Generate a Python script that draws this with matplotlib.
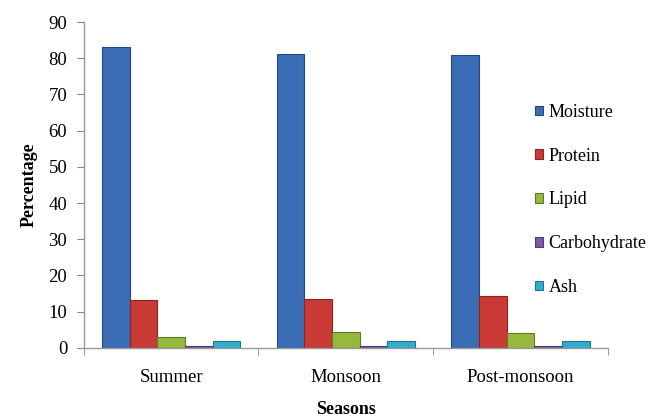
import numpy as np
import matplotlib.pyplot as plt
from matplotlib.patches import Patch

# Datos
seasons = ['Summer', 'Monsoon', 'Post-monsoon']
components = ['Moisture', 'Protein', 'Lipid', 'Carbohydrate', 'Ash']
moisture = [83.2, 81.3, 80.9]
protein = [13.1, 13.6, 14.4]
lipid = [3.0, 4.4, 4.1]
carbohydrate = [0.5, 0.5, 0.5]
ash = [1.9, 1.9, 1.9]

colors = ['#3a6db5', '#c93a36', '#96b83d', '#7b5aa6', '#33adcc']
edges = ['#24497e', '#8e2421', '#62792a', '#523a70', '#1f7488']

plt.rcParams['font.family'] = ['Liberation Serif', 'DejaVu Serif']

fig = plt.figure(figsize=(6.5, 4.17), dpi=100)
ax = fig.add_axes([0.129, 0.166, 0.806, 0.781])

series = [moisture, protein, lipid, carbohydrate, ash]
x = np.arange(len(seasons))
width = 0.1585
for i, vals in enumerate(series):
    ax.bar(x + (i - 2) * width, vals, width, color=colors[i],
           edgecolor=edges[i], linewidth=0.8, zorder=2)

ax.set_xlim(-0.5, 2.5)
ax.set_ylim(0, 90)
ax.set_yticks(np.arange(0, 91, 10))
ax.set_xticks(x)
ax.set_xticklabels(seasons, fontsize=13.5)
ax.set_xticks([-0.5, 0.5, 1.5, 2.5], minor=True)
ax.tick_params(axis='x', which='major', length=0, pad=15)
ax.tick_params(axis='x', which='minor', length=5, color='#888888', direction='out')
ax.tick_params(axis='y', length=5, color='#888888', labelsize=13.5, pad=7)

for s in ['top', 'right']:
    ax.spines[s].set_visible(False)
for s in ['left', 'bottom']:
    ax.spines[s].set_color('#999999')
    ax.spines[s].set_linewidth(1.0)

ax.set_ylabel('Percentage', fontsize=13, fontweight='bold', labelpad=8)
ax.set_xlabel('Seasons', fontsize=13, fontweight='bold', labelpad=11)

handles = [Patch(facecolor=colors[i], edgecolor=edges[i], linewidth=0.8)
           for i in range(len(components))]
fig.legend(handles, components, loc='upper left', bbox_to_anchor=(0.812, 0.768),
           frameon=False, fontsize=13, handlelength=0.45, handleheight=0.45,
           handletextpad=0.3, labelspacing=1.48, borderaxespad=0)

fig.savefig('out.png', dpi=100)
